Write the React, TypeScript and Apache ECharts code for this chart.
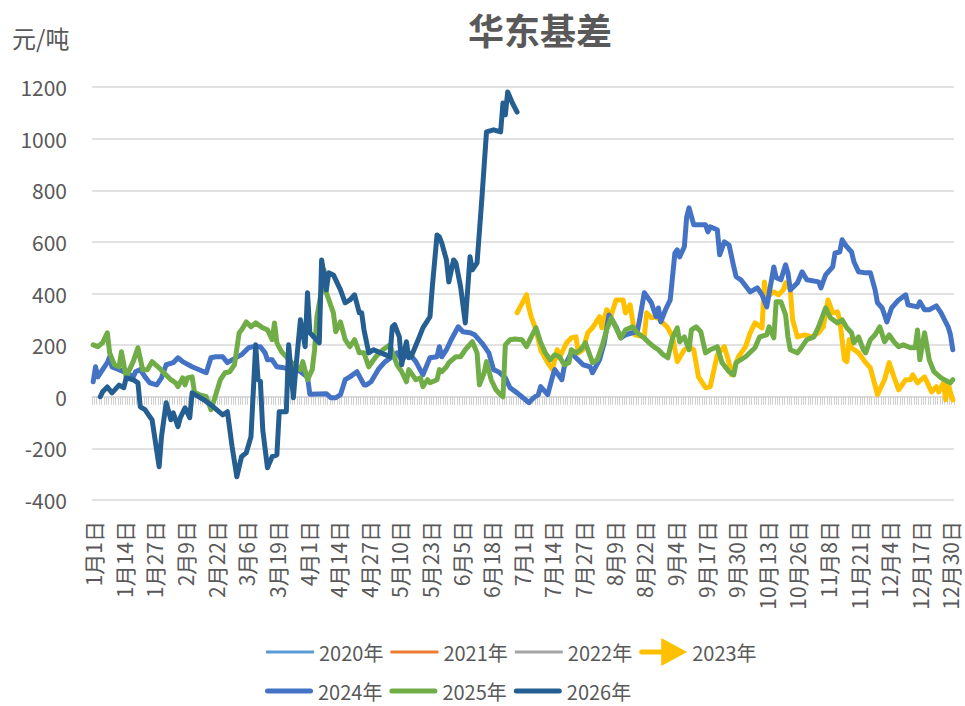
import React, { useEffect, useRef } from "react";
import * as echarts from "echarts";

// ---- categories (leap-year calendar, 1月1日 … 12月31日) ----
const monthLengths = [31, 29, 31, 30, 31, 30, 31, 31, 30, 31, 30, 31];
const categories: string[] = [];
monthLengths.forEach((n, m) => {
  for (let d = 1; d <= n; d++) categories.push(`${m + 1}月${d}日`);
});

const yTicks = { min: -400, max: 1200, interval: 200 };

const seriesNames = ["2020年", "2021年", "2022年", "2023年", "2024年", "2025年", "2026年"];
const seriesColors = ["#5B9BD5", "#ED7D31", "#A5A5A5", "#FFC000", "#4472C4", "#70AD47", "#255E91"];

// ---- series values: day-of-year index and 基差 value ----
const days2023 = [180, 184, 185, 186, 188, 190, 193, 195, 197, 198, 201, 203, 205, 206, 208, 210, 212, 215, 216, 218, 220, 222, 225, 226, 228, 230, 234, 235, 237, 239, 242, 244, 246, 248, 251, 253, 255, 257, 260, 262, 265, 268, 270, 271, 274, 277, 279, 281, 284, 285, 286, 289, 291, 293, 294, 296, 297, 299, 302, 305, 308, 310, 312, 314, 316, 317, 319, 320, 321, 322, 325, 328, 330, 333, 336, 338, 340, 342, 345, 347, 348, 350, 353, 356, 358, 359, 361, 362, 363, 364, 365];
const vals2023 = [325, 395, 344, 310, 259, 182, 132, 105, 182, 151, 209, 228, 232, 170, 182, 248, 267, 310, 267, 337, 317, 375, 375, 325, 356, 240, 232, 325, 306, 310, 286, 267, 232, 136, 182, 194, 182, 77, 35, 39, 163, 194, 132, 85, 155, 194, 248, 286, 267, 445, 387, 406, 395, 414, 441, 414, 298, 232, 240, 232, 248, 271, 375, 325, 329, 298, 143, 136, 221, 190, 170, 132, 112, 8, 66, 132, 77, 27, 66, 66, 85, 54, 77, 19, 39, 19, 54, -12, 54, 15, -12];

const days2024 = [0, 1, 2, 4, 6, 7, 8, 11, 13, 14, 17, 18, 20, 22, 24, 27, 29, 31, 34, 36, 38, 42, 48, 50, 52, 55, 57, 59, 63, 66, 68, 71, 73, 74, 76, 78, 81, 84, 86, 88, 91, 92, 99, 101, 103, 105, 107, 109, 112, 115, 116, 118, 121, 122, 124, 127, 129, 131, 134, 137, 140, 143, 146, 147, 148, 150, 152, 155, 157, 160, 162, 165, 168, 170, 172, 175, 177, 180, 182, 185, 187, 189, 190, 193, 195, 196, 199, 200, 203, 205, 208, 211, 212, 215, 217, 219, 222, 224, 226, 229, 231, 232, 234, 237, 239, 240, 241, 243, 245, 247, 248, 249, 251, 252, 253, 255, 258, 260, 261, 262, 265, 266, 268, 270, 272, 273, 275, 279, 282, 284, 286, 289, 290, 292, 294, 295, 296, 299, 301, 303, 308, 309, 311, 314, 315, 317, 318, 320, 322, 323, 325, 328, 330, 332, 333, 335, 337, 339, 342, 345, 346, 350, 351, 353, 355, 358, 360, 363, 364, 365];
const vals2024 = [58, 116, 77, 105, 132, 155, 116, 105, 97, 93, 77, 97, 105, 77, 54, 46, 73, 124, 132, 151, 136, 116, 93, 151, 155, 155, 132, 143, 163, 190, 194, 194, 170, 143, 143, 116, 112, 105, 116, 97, 77, 10, 12, -4, -4, 8, 66, 77, 97, 46, 46, 58, 105, 116, 136, 155, 170, 143, 170, 136, 85, 151, 155, 194, 155, 182, 221, 271, 252, 248, 240, 209, 170, 105, 97, 73, 35, 15, 0, -23, -4, 8, 39, 8, 77, 105, 66, 116, 170, 151, 124, 116, 93, 143, 209, 317, 271, 228, 240, 248, 252, 298, 403, 364, 310, 344, 290, 337, 375, 557, 569, 542, 581, 697, 732, 666, 666, 666, 639, 658, 647, 550, 600, 588, 503, 465, 453, 406, 422, 395, 348, 503, 461, 453, 511, 480, 414, 441, 484, 453, 445, 422, 472, 503, 557, 561, 608, 581, 561, 523, 484, 480, 480, 414, 364, 344, 290, 344, 375, 395, 356, 348, 368, 337, 337, 352, 325, 271, 240, 182];

const days2025 = [0, 2, 4, 6, 7, 9, 11, 12, 14, 17, 19, 21, 23, 25, 28, 30, 33, 35, 36, 38, 39, 40, 42, 43, 45, 48, 50, 51, 54, 56, 58, 60, 62, 63, 65, 67, 69, 72, 74, 76, 77, 78, 80, 82, 85, 88, 89, 91, 93, 94, 95, 97, 98, 99, 102, 103, 105, 107, 109, 111, 113, 115, 117, 120, 123, 126, 127, 129, 131, 133, 134, 137, 139, 140, 142, 143, 146, 147, 148, 150, 151, 154, 156, 158, 161, 163, 164, 166, 167, 169, 171, 173, 174, 175, 177, 179, 182, 184, 186, 188, 190, 192, 194, 196, 198, 200, 202, 203, 205, 207, 209, 212, 214, 216, 218, 220, 222, 224, 226, 229, 231, 234, 236, 238, 240, 242, 244, 246, 248, 249, 251, 253, 254, 256, 258, 260, 262, 265, 267, 270, 272, 273, 277, 281, 283, 286, 287, 289, 290, 292, 294, 295, 296, 299, 301, 303, 306, 308, 311, 313, 316, 318, 320, 322, 323, 325, 327, 328, 330, 332, 334, 336, 338, 340, 342, 344, 347, 349, 350, 351, 353, 355, 357, 360, 363, 364, 365];
const vals2025 = [201, 194, 209, 248, 170, 124, 116, 174, 77, 136, 190, 105, 105, 136, 112, 93, 66, 54, 39, 73, 46, 73, 77, 19, 8, 0, -50, -23, 66, 93, 97, 124, 248, 259, 290, 271, 286, 267, 259, 221, 286, 209, 174, 155, 124, 105, 136, 66, 105, 182, 310, 414, 492, 403, 325, 252, 290, 221, 194, 221, 170, 170, 116, 155, 182, 201, 174, 124, 97, 58, 105, 66, 73, 39, 66, 54, 66, 105, 97, 116, 132, 155, 155, 182, 213, 170, 46, 93, 136, 66, 27, 8, 0, 201, 221, 224, 221, 194, 232, 267, 210, 170, 143, 163, 155, 124, 132, 182, 170, 182, 209, 132, 143, 194, 259, 306, 267, 228, 259, 271, 248, 228, 209, 194, 182, 163, 151, 228, 267, 213, 232, 182, 259, 271, 252, 170, 182, 194, 132, 97, 85, 132, 155, 190, 232, 240, 271, 228, 368, 368, 317, 232, 182, 170, 194, 221, 232, 271, 344, 306, 286, 298, 267, 248, 209, 232, 182, 170, 221, 240, 271, 213, 240, 213, 194, 201, 190, 190, 259, 143, 248, 143, 97, 73, 58, 54, 66];

const days2026 = [3, 4, 6, 8, 11, 13, 14, 17, 19, 20, 22, 24, 25, 28, 29, 31, 33, 34, 36, 37, 39, 41, 42, 47, 51, 55, 57, 59, 61, 63, 65, 67, 69, 70, 71, 72, 74, 76, 78, 79, 82, 83, 85, 86, 88, 90, 91, 92, 96, 97, 99, 100, 102, 105, 107, 109, 111, 113, 114, 115, 117, 119, 124, 126, 127, 128, 130, 131, 133, 134, 135, 138, 140, 143, 144, 146, 147, 148, 150, 151, 153, 154, 156, 158, 160, 161, 163, 165, 167, 170, 173, 174, 175, 176, 178, 180];
const vals2026 = [0, 19, 38, 15, 45, 35, 73, 66, 54, -39, -50, -77, -89, -271, -155, -23, -89, -62, -116, -81, -43, -81, 15, -12, -39, -70, -58, -194, -310, -232, -217, -155, 201, 66, 60, -128, -275, -232, -225, -58, -58, 201, -4, 105, 298, 194, 403, 248, 209, 530, 414, 480, 472, 414, 364, 375, 395, 325, 325, 259, 170, 182, 163, 155, 271, 279, 232, 124, 213, 151, 155, 221, 267, 310, 426, 627, 619, 596, 530, 445, 530, 519, 426, 286, 542, 492, 519, 763, 1026, 1034, 1026, 1138, 1092, 1181, 1138, 1103];

const seriesDays: number[][] = [[], [], [], days2023, days2024, days2025, days2026];
const seriesVals: number[][] = [[], [], [], vals2023, vals2024, vals2025, vals2026];
const seriesWidths = [2.5, 2.5, 2.5, 5, 5, 5, 5];

const ICON_THIN = "path://M0,0H48V3H0Z";
const ICON_THICK = "path://M2.5,0H45.5A2.5,2.5 0 0 1 45.5,5H2.5A2.5,2.5 0 0 1 2.5,0Z";
const ICON_ARROW = "path://M2.5,11.5L22,11.5L22,0L48,14L22,28L22,16.5L2.5,16.5A2.5,2.5 0 0 1 2.5,11.5Z";
const legendIcons = [ICON_THIN, ICON_THIN, ICON_THIN, ICON_ARROW, ICON_THICK, ICON_THICK, ICON_THICK];

const FONT = "'Noto Sans CJK SC', 'Noto Sans', sans-serif";
const TXT = "#595959";

export default function App() {
  const ref = useRef<HTMLDivElement>(null);

  useEffect(() => {
    if (!ref.current) return;
    document.body.style.margin = "0";
    const chart = echarts.init(ref.current, undefined, { renderer: "svg" });

    const series = seriesNames.map((name, k) => ({
      name,
      type: "line",
      xAxisIndex: 0,
      yAxisIndex: 0,
      symbol: "none",
      connectNulls: true,
      color: seriesColors[k],
      lineStyle: { color: seriesColors[k], width: seriesWidths[k], cap: "round", join: "round" },
      itemStyle: { color: seriesColors[k] },
      data: seriesDays[k].map((d, i) => [d, seriesVals[k][i]]),
      z: 2 + k,
    }));

    const legendCommon = {
      orient: "horizontal",
      padding: 0,
      itemWidth: 48,
      itemHeight: 28,
      itemGap: 7,
      selectedMode: false,
      textStyle: { color: TXT, fontSize: 20, fontFamily: FONT },
    };

    chart.setOption({
      animation: false,
      backgroundColor: "#ffffff",
      title: {
        text: "华东基差",
        left: 535,
        top: 6,
        textAlign: "center",
        textStyle: { color: TXT, fontSize: 36, fontWeight: "bold", fontFamily: FONT },
      },
      graphic: [
        {
          type: "text",
          left: 12,
          top: 25,
          style: { text: "元/吨", fill: TXT, font: `24px ${FONT}` },
        },
      ],
      legend: [
        {
          ...legendCommon,
          left: 266,
          top: 638,
          data: seriesNames.slice(0, 4).map((n, i) => ({ name: n, icon: legendIcons[i] })),
        },
        {
          ...legendCommon,
          left: 265,
          top: 681,
          data: seriesNames.slice(4).map((n, i) => ({ name: n, icon: legendIcons[4 + i] })),
        },
      ],
      grid: { left: 92, right: 11, top: 87, bottom: 206, containLabel: false },
      xAxis: [
        {
          type: "category",
          data: categories,
          boundaryGap: true,
          position: "bottom",
          axisLine: { show: false, onZero: false },
          axisTick: { show: false },
          splitLine: { show: false },
          axisLabel: {
            interval: 12,
            rotate: 90,
            margin: 21,
            color: TXT,
            fontSize: 21,
            lineHeight: 18,
            fontFamily: FONT,
          },
        },
        {
          type: "category",
          data: categories,
          boundaryGap: true,
          position: "bottom",
          axisLine: { show: true, onZero: true, onZeroAxisIndex: 0, lineStyle: { color: "#d9d9d9", width: 1.5 } },
          axisTick: { show: true, interval: 0, length: 8, lineStyle: { color: "#cfcfcf", width: 1 } },
          axisLabel: { show: false },
          splitLine: { show: false },
        },
      ],
      yAxis: {
        type: "value",
        min: yTicks.min,
        max: yTicks.max,
        interval: yTicks.interval,
        axisLine: { show: false },
        axisTick: { show: false },
        axisLabel: {
          color: TXT,
          fontSize: 21,
          fontFamily: FONT,
          margin: 25,
          formatter: (v: number) => String(v),
        },
        splitLine: { lineStyle: { color: "#d9d9d9", width: 1.5 } },
      },
      series,
    });

    return () => chart.dispose();
  }, []);

  return <div ref={ref} style={{ width: 965, height: 706, position: "absolute", left: 0, top: 0 }} />;
}
